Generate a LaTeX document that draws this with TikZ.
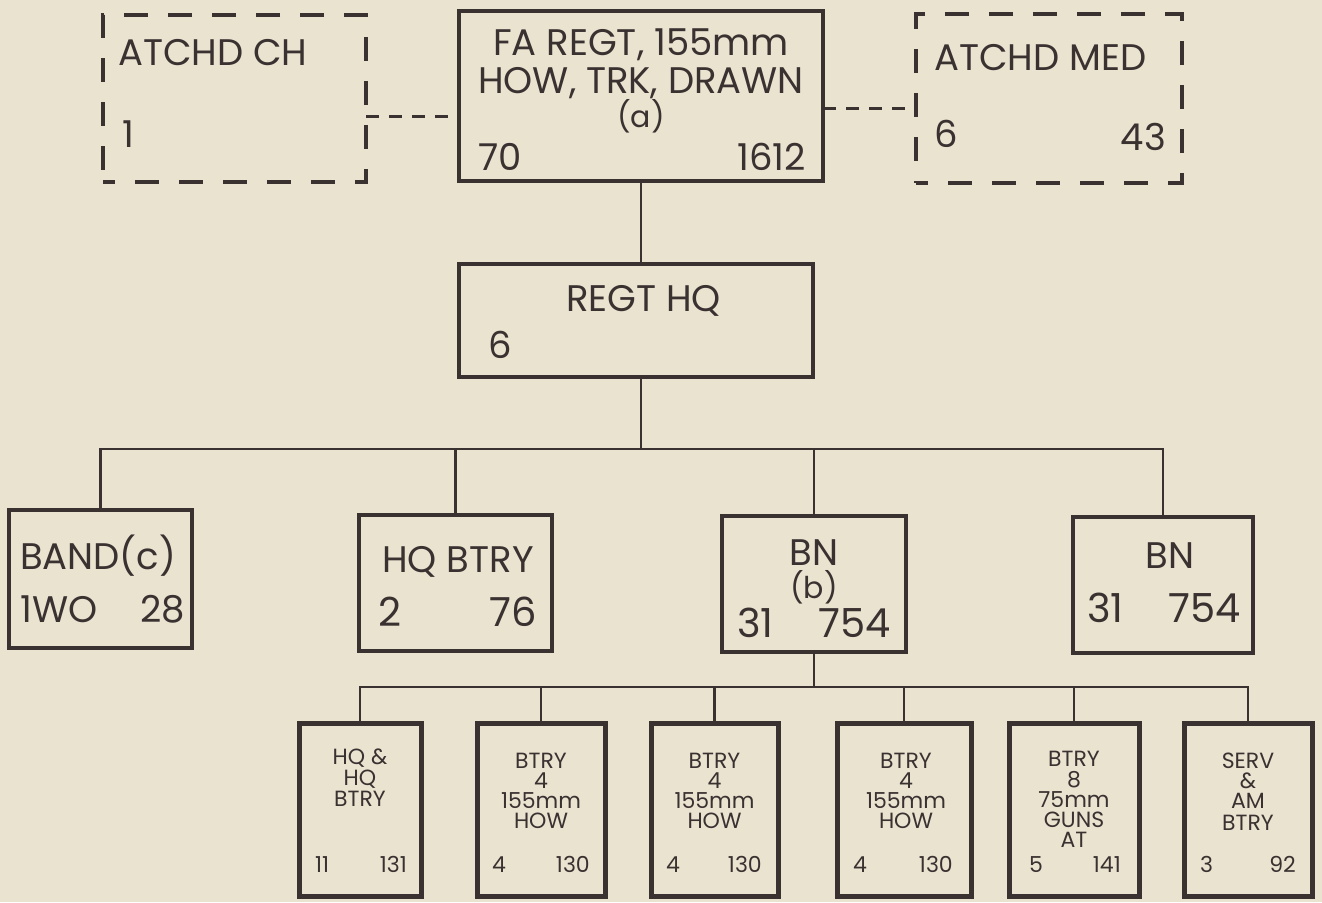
\documentclass[tikz,border=0pt]{standalone}
\usepackage{fontspec}
\setmainfont{Poppins}
\newfontfamily\hand{Poppins}
\definecolor{paper}{HTML}{E9E3D0}
\definecolor{ink}{HTML}{3A3131}
\tikzset{
  box/.style={draw=ink, line width=4pt, rectangle, inner sep=0pt, outer sep=0pt},
  lowbox/.style={box, line width=5pt},
  dbox/.style={box, dash pattern=on 24pt off 20pt, dash phase=12pt},
  link/.style={draw=ink, line width=2.5pt},
  dlink/.style={link, dash pattern=on 13pt off 10pt},
  txt/.style={text=ink, inner sep=0pt},
  big/.style={txt, text height=26pt, text depth=0pt, font=\hand\fontsize{37}{40}\selectfont},
  mid/.style={txt, text height=28pt, text depth=0pt, font=\hand\fontsize{40}{42}\selectfont},
  par/.style={txt, font=\hand\fontsize{30}{32}\selectfont},
  sml/.style={txt, text height=15pt, text depth=0pt, font=\hand\fontsize{22}{24}\selectfont},
}
\begin{document}
\begin{tikzpicture}[x=1pt,y=-1pt]
\fill[paper] (0,0) rectangle (1322,902);
\useasboundingbox (0,0) rectangle (1322,902);

% top row
\node[dbox, minimum width=263pt, minimum height=167pt] (ch) at (234.5,98.5) {};
\node[box, minimum width=364pt, minimum height=170pt] (fa) at (641,96) {};
\node[dbox, minimum width=266pt, minimum height=169pt] (med) at (1049,98.5) {};
% regt hq
\node[box, minimum width=354pt, minimum height=113pt] (hq) at (636,320.5) {};
% middle row
\node[box, minimum width=183pt, minimum height=138pt] (band) at (100.5,579) {};
\node[box, minimum width=193pt, minimum height=136pt] (hqb) at (455.5,583) {};
\node[box, minimum width=184pt, minimum height=136pt] (bn1) at (814,584) {};
\node[box, minimum width=180pt, minimum height=136pt] (bn2) at (1163,585) {};
% bottom row
\node[lowbox, minimum width=122pt, minimum height=173pt] (b1) at (360,809.5) {};
\node[lowbox, minimum width=128pt, minimum height=173pt] (b2) at (541,809.5) {};
\node[lowbox, minimum width=127pt, minimum height=173pt] (b3) at (714.5,809.5) {};
\node[lowbox, minimum width=134pt, minimum height=173pt] (b4) at (904,809.5) {};
\node[lowbox, minimum width=130pt, minimum height=173pt] (b5) at (1074,809.5) {};
\node[lowbox, minimum width=128pt, minimum height=173pt] (b6) at (1248,809.5) {};

% connectors
\coordinate (c1) at ([yshift=-18pt]ch.east);
\coordinate (m1) at ([yshift=-10pt]med.west);
\draw[dlink] (c1) -- (c1 -| fa.west);
\draw[dlink] (m1 -| fa.east) -- (m1);
\draw[link] (fa.south) -- (fa.south |- hq.north);
\coordinate (bus) at (641,449);
\draw[link] (hq.south -| bus) -- (bus);
\draw[link] (band.north) |- (bus) -| (bn2.north);
\draw[link] (hqb.north) -- (hqb.north |- bus);
\draw[link] (bn1.north) -- (bn1.north |- bus);
\coordinate (bus2) at (814,687);
\draw[link] (bn1.south) -- (bus2);
\draw[link] (b1.north) |- (bus2) -| (b6.north);
\foreach \b in {b2,b3,b4,b5} \draw[link] (\b.north) -- (\b.north |- bus2);

% texts top
\node[big, anchor=base west] (tch) at (118,65) {ATCHD CH};
\node[big, anchor=base west] (tch1) at (122,147) {1};
\node[big, anchor=base] (tfa1) at (641,55) {FA REGT, 155mm};
\node[big, anchor=base] (tfa2) at (641,93) {HOW, TRK, DRAWN};
\node[par, anchor=base] (tfa3) at (641,127) {(a)};
\node[big, anchor=base west] (tfa4) at (478,170) {70};
\node[big, anchor=base east] (tfa5) at (806,170) {1612};
\node[big, anchor=base west] (tmed) at (934,70) {ATCHD MED};
\node[big, anchor=base west] (tmed1) at (934,147) {6};
\node[big, anchor=base east] (tmed2) at (1166,150) {43};
% regt hq
\node[big, anchor=base west] (thq) at (566,311) {REGT HQ};
\node[big, anchor=base west] (thq1) at (488,358) {6};
% middle
\node[big, anchor=base west] (tband) at (20,569) {BAND(c)};
\node[big, anchor=base west] (tband1) at (20,622) {1WO};
\node[big, anchor=base east] (tband2) at (185,622) {28};
\node[big, anchor=base] (thqb) at (458,572) {HQ BTRY};
\node[mid, anchor=base west] (thqb1) at (378,626) {2};
\node[mid, anchor=base east] (thqb2) at (537,626) {76};
\node[big, anchor=base] (tbn1) at (814,565) {BN};
\node[par, anchor=base] (tbn1b) at (814,598) {(b)};
\node[mid, anchor=base west] (tbn1c) at (737,637) {31};
\node[mid, anchor=base east] (tbn1d) at (891,637) {754};
\node[big, anchor=base] (tbn2) at (1170,568) {BN};
\node[mid, anchor=base west] (tbn2c) at (1087,622) {31};
\node[mid, anchor=base east] (tbn2d) at (1241,622) {754};
% bottom
\node[sml, anchor=base] at (360,764) (tb1a) {HQ \&};
\node[sml, anchor=base] at (360,785) (tb1b) {HQ};
\node[sml, anchor=base] at (360,806) (tb1c) {BTRY};
\node[sml, anchor=base west] at (315,872) (tb1d) {11};
\node[sml, anchor=base east] at (407,872) (tb1e) {131};

\node[sml, anchor=base] at (541,768) (tb2a) {BTRY};
\node[sml, anchor=base] at (541,788) (tb2b) {4};
\node[sml, anchor=base] at (541,808) (tb2c) {155mm};
\node[sml, anchor=base] at (541,828) (tb2d) {HOW};
\node[sml, anchor=base west] at (492,872) (tb2e) {4};
\node[sml, anchor=base east] at (590,872) (tb2f) {130};

\node[sml, anchor=base] at (714.5,768) (tb3a) {BTRY};
\node[sml, anchor=base] at (714.5,788) (tb3b) {4};
\node[sml, anchor=base] at (714.5,808) (tb3c) {155mm};
\node[sml, anchor=base] at (714.5,828) (tb3d) {HOW};
\node[sml, anchor=base west] at (666,872) (tb3e) {4};
\node[sml, anchor=base east] at (762,872) (tb3f) {130};

\node[sml, anchor=base] at (906,768) (tb4a) {BTRY};
\node[sml, anchor=base] at (906,788) (tb4b) {4};
\node[sml, anchor=base] at (906,808) (tb4c) {155mm};
\node[sml, anchor=base] at (906,828) (tb4d) {HOW};
\node[sml, anchor=base west] at (853,872) (tb4e) {4};
\node[sml, anchor=base east] at (953,872) (tb4f) {130};

\node[sml, anchor=base] at (1074,766) (tb5a) {BTRY};
\node[sml, anchor=base] at (1074,787) (tb5b) {8};
\node[sml, anchor=base] at (1074,807) (tb5c) {75mm};
\node[sml, anchor=base] at (1074,827) (tb5d) {GUNS};
\node[sml, anchor=base] at (1074,847) (tb5e) {AT};
\node[sml, anchor=base west] at (1029,872) (tb5f) {5};
\node[sml, anchor=base east] at (1121,872) (tb5g) {141};

\node[sml, anchor=base] at (1248,768) (tb6a) {SERV};
\node[sml, anchor=base] at (1248,788) (tb6b) {\&};
\node[sml, anchor=base] at (1248,808) (tb6c) {AM};
\node[sml, anchor=base] at (1248,830) (tb6d) {BTRY};
\node[sml, anchor=base west] at (1200,872) (tb6e) {3};
\node[sml, anchor=base east] at (1296,872) (tb6f) {92};
\end{tikzpicture}
\end{document}
